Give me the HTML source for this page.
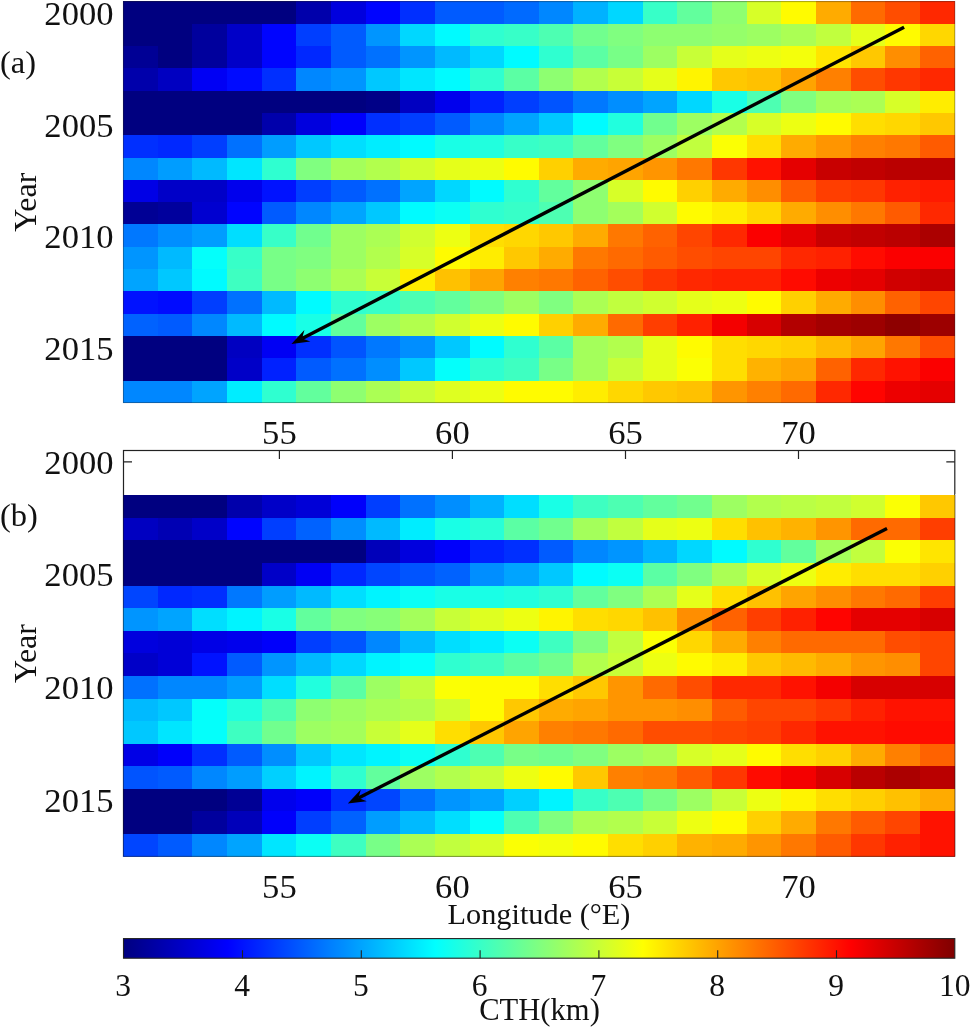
<!DOCTYPE html>
<html><head><meta charset="utf-8"><title>CTH Hovmoller</title>
<style>html,body{margin:0;padding:0;background:#fff}svg{display:block}text{font-family:"Liberation Serif",serif;fill:#111}</style></head><body>
<svg width="971" height="1029" viewBox="0 0 971 1029">
<defs><linearGradient id="jet" x1="0" x2="1" y1="0" y2="0">
<stop offset="0.0000" stop-color="#000080"/>
<stop offset="0.0156" stop-color="#00008f"/>
<stop offset="0.0312" stop-color="#00009f"/>
<stop offset="0.0469" stop-color="#0000af"/>
<stop offset="0.0625" stop-color="#0000bf"/>
<stop offset="0.0781" stop-color="#0000cf"/>
<stop offset="0.0938" stop-color="#0000df"/>
<stop offset="0.1094" stop-color="#0000ef"/>
<stop offset="0.1250" stop-color="#0000ff"/>
<stop offset="0.1406" stop-color="#0010ff"/>
<stop offset="0.1562" stop-color="#0020ff"/>
<stop offset="0.1719" stop-color="#0030ff"/>
<stop offset="0.1875" stop-color="#0040ff"/>
<stop offset="0.2031" stop-color="#0050ff"/>
<stop offset="0.2188" stop-color="#0060ff"/>
<stop offset="0.2344" stop-color="#0070ff"/>
<stop offset="0.2500" stop-color="#0080ff"/>
<stop offset="0.2656" stop-color="#008fff"/>
<stop offset="0.2812" stop-color="#009fff"/>
<stop offset="0.2969" stop-color="#00afff"/>
<stop offset="0.3125" stop-color="#00bfff"/>
<stop offset="0.3281" stop-color="#00cfff"/>
<stop offset="0.3438" stop-color="#00dfff"/>
<stop offset="0.3594" stop-color="#00efff"/>
<stop offset="0.3750" stop-color="#00ffff"/>
<stop offset="0.3906" stop-color="#10ffef"/>
<stop offset="0.4062" stop-color="#20ffdf"/>
<stop offset="0.4219" stop-color="#30ffcf"/>
<stop offset="0.4375" stop-color="#40ffbf"/>
<stop offset="0.4531" stop-color="#50ffaf"/>
<stop offset="0.4688" stop-color="#60ff9f"/>
<stop offset="0.4844" stop-color="#70ff8f"/>
<stop offset="0.5000" stop-color="#80ff80"/>
<stop offset="0.5156" stop-color="#8fff70"/>
<stop offset="0.5312" stop-color="#9fff60"/>
<stop offset="0.5469" stop-color="#afff50"/>
<stop offset="0.5625" stop-color="#bfff40"/>
<stop offset="0.5781" stop-color="#cfff30"/>
<stop offset="0.5938" stop-color="#dfff20"/>
<stop offset="0.6094" stop-color="#efff10"/>
<stop offset="0.6250" stop-color="#ffff00"/>
<stop offset="0.6406" stop-color="#ffef00"/>
<stop offset="0.6562" stop-color="#ffdf00"/>
<stop offset="0.6719" stop-color="#ffcf00"/>
<stop offset="0.6875" stop-color="#ffbf00"/>
<stop offset="0.7031" stop-color="#ffaf00"/>
<stop offset="0.7188" stop-color="#ff9f00"/>
<stop offset="0.7344" stop-color="#ff8f00"/>
<stop offset="0.7500" stop-color="#ff8000"/>
<stop offset="0.7656" stop-color="#ff7000"/>
<stop offset="0.7812" stop-color="#ff6000"/>
<stop offset="0.7969" stop-color="#ff5000"/>
<stop offset="0.8125" stop-color="#ff4000"/>
<stop offset="0.8281" stop-color="#ff3000"/>
<stop offset="0.8438" stop-color="#ff2000"/>
<stop offset="0.8594" stop-color="#ff1000"/>
<stop offset="0.8750" stop-color="#ff0000"/>
<stop offset="0.8906" stop-color="#ef0000"/>
<stop offset="0.9062" stop-color="#df0000"/>
<stop offset="0.9219" stop-color="#cf0000"/>
<stop offset="0.9375" stop-color="#bf0000"/>
<stop offset="0.9531" stop-color="#af0000"/>
<stop offset="0.9688" stop-color="#9f0000"/>
<stop offset="0.9844" stop-color="#8f0000"/>
<stop offset="1.0000" stop-color="#800000"/>
</linearGradient></defs>
<rect width="971" height="1029" fill="#fff"/>
<g shape-rendering="crispEdges">
<rect x="123.00" y="1.40" width="35.25" height="22.90" fill="#000080"/>
<rect x="157.65" y="1.40" width="35.25" height="22.90" fill="#000080"/>
<rect x="192.30" y="1.40" width="35.25" height="22.90" fill="#000080"/>
<rect x="226.95" y="1.40" width="35.25" height="22.90" fill="#000080"/>
<rect x="261.60" y="1.40" width="35.25" height="22.90" fill="#000080"/>
<rect x="296.25" y="1.40" width="35.25" height="22.90" fill="#0000ab"/>
<rect x="330.90" y="1.40" width="35.25" height="22.90" fill="#0000de"/>
<rect x="365.55" y="1.40" width="35.25" height="22.90" fill="#0004ff"/>
<rect x="400.20" y="1.40" width="35.25" height="22.90" fill="#002fff"/>
<rect x="434.85" y="1.40" width="35.25" height="22.90" fill="#005bff"/>
<rect x="469.50" y="1.40" width="35.25" height="22.90" fill="#005bff"/>
<rect x="504.15" y="1.40" width="35.25" height="22.90" fill="#006aff"/>
<rect x="538.80" y="1.40" width="35.25" height="22.90" fill="#0087ff"/>
<rect x="573.45" y="1.40" width="35.25" height="22.90" fill="#00b2ff"/>
<rect x="608.10" y="1.40" width="35.25" height="22.90" fill="#00d7ff"/>
<rect x="642.75" y="1.40" width="35.25" height="22.90" fill="#37ffc8"/>
<rect x="677.40" y="1.40" width="35.25" height="22.90" fill="#62ff9d"/>
<rect x="712.05" y="1.40" width="35.25" height="22.90" fill="#8eff71"/>
<rect x="746.70" y="1.40" width="35.25" height="22.90" fill="#d7ff28"/>
<rect x="781.35" y="1.40" width="35.25" height="22.90" fill="#fffb00"/>
<rect x="816.00" y="1.40" width="35.25" height="22.90" fill="#ffab00"/>
<rect x="850.65" y="1.40" width="35.25" height="22.90" fill="#ff6a00"/>
<rect x="885.30" y="1.40" width="35.25" height="22.90" fill="#ff4d00"/>
<rect x="919.95" y="1.40" width="35.25" height="22.90" fill="#ff2800"/>
<rect x="123.00" y="23.70" width="35.25" height="22.90" fill="#000080"/>
<rect x="157.65" y="23.70" width="35.25" height="22.90" fill="#000080"/>
<rect x="192.30" y="23.70" width="35.25" height="22.90" fill="#00009d"/>
<rect x="226.95" y="23.70" width="35.25" height="22.90" fill="#0000c8"/>
<rect x="261.60" y="23.70" width="35.25" height="22.90" fill="#0004ff"/>
<rect x="296.25" y="23.70" width="35.25" height="22.90" fill="#003eff"/>
<rect x="330.90" y="23.70" width="35.25" height="22.90" fill="#005bff"/>
<rect x="365.55" y="23.70" width="35.25" height="22.90" fill="#0095ff"/>
<rect x="400.20" y="23.70" width="35.25" height="22.90" fill="#00d7ff"/>
<rect x="434.85" y="23.70" width="35.25" height="22.90" fill="#00fbff"/>
<rect x="469.50" y="23.70" width="35.25" height="22.90" fill="#2fffd0"/>
<rect x="504.15" y="23.70" width="35.25" height="22.90" fill="#37ffc8"/>
<rect x="538.80" y="23.70" width="35.25" height="22.90" fill="#4dffb2"/>
<rect x="573.45" y="23.70" width="35.25" height="22.90" fill="#71ff8e"/>
<rect x="608.10" y="23.70" width="35.25" height="22.90" fill="#80ff80"/>
<rect x="642.75" y="23.70" width="35.25" height="22.90" fill="#8eff71"/>
<rect x="677.40" y="23.70" width="35.25" height="22.90" fill="#8eff71"/>
<rect x="712.05" y="23.70" width="35.25" height="22.90" fill="#95ff6a"/>
<rect x="746.70" y="23.70" width="35.25" height="22.90" fill="#9dff62"/>
<rect x="781.35" y="23.70" width="35.25" height="22.90" fill="#abff54"/>
<rect x="816.00" y="23.70" width="35.25" height="22.90" fill="#c1ff3e"/>
<rect x="850.65" y="23.70" width="35.25" height="22.90" fill="#e5ff1a"/>
<rect x="885.30" y="23.70" width="35.25" height="22.90" fill="#fffb00"/>
<rect x="919.95" y="23.70" width="35.25" height="22.90" fill="#ffd700"/>
<rect x="123.00" y="46.00" width="35.25" height="22.90" fill="#000095"/>
<rect x="157.65" y="46.00" width="35.25" height="22.90" fill="#000080"/>
<rect x="192.30" y="46.00" width="35.25" height="22.90" fill="#00009d"/>
<rect x="226.95" y="46.00" width="35.25" height="22.90" fill="#0000c8"/>
<rect x="261.60" y="46.00" width="35.25" height="22.90" fill="#0004ff"/>
<rect x="296.25" y="46.00" width="35.25" height="22.90" fill="#0028ff"/>
<rect x="330.90" y="46.00" width="35.25" height="22.90" fill="#005bff"/>
<rect x="365.55" y="46.00" width="35.25" height="22.90" fill="#0071ff"/>
<rect x="400.20" y="46.00" width="35.25" height="22.90" fill="#0095ff"/>
<rect x="434.85" y="46.00" width="35.25" height="22.90" fill="#00baff"/>
<rect x="469.50" y="46.00" width="35.25" height="22.90" fill="#00d7ff"/>
<rect x="504.15" y="46.00" width="35.25" height="22.90" fill="#00fbff"/>
<rect x="538.80" y="46.00" width="35.25" height="22.90" fill="#2fffd0"/>
<rect x="573.45" y="46.00" width="35.25" height="22.90" fill="#5bffa4"/>
<rect x="608.10" y="46.00" width="35.25" height="22.90" fill="#78ff87"/>
<rect x="642.75" y="46.00" width="35.25" height="22.90" fill="#9dff62"/>
<rect x="677.40" y="46.00" width="35.25" height="22.90" fill="#c8ff37"/>
<rect x="712.05" y="46.00" width="35.25" height="22.90" fill="#e5ff1a"/>
<rect x="746.70" y="46.00" width="35.25" height="22.90" fill="#edff12"/>
<rect x="781.35" y="46.00" width="35.25" height="22.90" fill="#f4ff0b"/>
<rect x="816.00" y="46.00" width="35.25" height="22.90" fill="#ffe500"/>
<rect x="850.65" y="46.00" width="35.25" height="22.90" fill="#ffc800"/>
<rect x="885.30" y="46.00" width="35.25" height="22.90" fill="#ff8e00"/>
<rect x="919.95" y="46.00" width="35.25" height="22.90" fill="#ff6200"/>
<rect x="123.00" y="68.30" width="35.25" height="22.90" fill="#0000ab"/>
<rect x="157.65" y="68.30" width="35.25" height="22.90" fill="#0000c1"/>
<rect x="192.30" y="68.30" width="35.25" height="22.90" fill="#0000f4"/>
<rect x="226.95" y="68.30" width="35.25" height="22.90" fill="#000bff"/>
<rect x="261.60" y="68.30" width="35.25" height="22.90" fill="#002fff"/>
<rect x="296.25" y="68.30" width="35.25" height="22.90" fill="#0087ff"/>
<rect x="330.90" y="68.30" width="35.25" height="22.90" fill="#0095ff"/>
<rect x="365.55" y="68.30" width="35.25" height="22.90" fill="#00c8ff"/>
<rect x="400.20" y="68.30" width="35.25" height="22.90" fill="#00e6ff"/>
<rect x="434.85" y="68.30" width="35.25" height="22.90" fill="#00fbff"/>
<rect x="469.50" y="68.30" width="35.25" height="22.90" fill="#2fffd0"/>
<rect x="504.15" y="68.30" width="35.25" height="22.90" fill="#5bffa4"/>
<rect x="538.80" y="68.30" width="35.25" height="22.90" fill="#8eff71"/>
<rect x="573.45" y="68.30" width="35.25" height="22.90" fill="#b2ff4d"/>
<rect x="608.10" y="68.30" width="35.25" height="22.90" fill="#c8ff37"/>
<rect x="642.75" y="68.30" width="35.25" height="22.90" fill="#e5ff1a"/>
<rect x="677.40" y="68.30" width="35.25" height="22.90" fill="#fff400"/>
<rect x="712.05" y="68.30" width="35.25" height="22.90" fill="#ffc800"/>
<rect x="746.70" y="68.30" width="35.25" height="22.90" fill="#ffc100"/>
<rect x="781.35" y="68.30" width="35.25" height="22.90" fill="#ffa400"/>
<rect x="816.00" y="68.30" width="35.25" height="22.90" fill="#ff8000"/>
<rect x="850.65" y="68.30" width="35.25" height="22.90" fill="#ff4d00"/>
<rect x="885.30" y="68.30" width="35.25" height="22.90" fill="#ff3700"/>
<rect x="919.95" y="68.30" width="35.25" height="22.90" fill="#ff2800"/>
<rect x="123.00" y="90.60" width="35.25" height="22.90" fill="#000080"/>
<rect x="157.65" y="90.60" width="35.25" height="22.90" fill="#000080"/>
<rect x="192.30" y="90.60" width="35.25" height="22.90" fill="#000080"/>
<rect x="226.95" y="90.60" width="35.25" height="22.90" fill="#000080"/>
<rect x="261.60" y="90.60" width="35.25" height="22.90" fill="#000080"/>
<rect x="296.25" y="90.60" width="35.25" height="22.90" fill="#000080"/>
<rect x="330.90" y="90.60" width="35.25" height="22.90" fill="#000080"/>
<rect x="365.55" y="90.60" width="35.25" height="22.90" fill="#000087"/>
<rect x="400.20" y="90.60" width="35.25" height="22.90" fill="#0000c1"/>
<rect x="434.85" y="90.60" width="35.25" height="22.90" fill="#0000ed"/>
<rect x="469.50" y="90.60" width="35.25" height="22.90" fill="#0021ff"/>
<rect x="504.15" y="90.60" width="35.25" height="22.90" fill="#003eff"/>
<rect x="538.80" y="90.60" width="35.25" height="22.90" fill="#0054ff"/>
<rect x="573.45" y="90.60" width="35.25" height="22.90" fill="#0078ff"/>
<rect x="608.10" y="90.60" width="35.25" height="22.90" fill="#008eff"/>
<rect x="642.75" y="90.60" width="35.25" height="22.90" fill="#00a4ff"/>
<rect x="677.40" y="90.60" width="35.25" height="22.90" fill="#00d7ff"/>
<rect x="712.05" y="90.60" width="35.25" height="22.90" fill="#19ffe6"/>
<rect x="746.70" y="90.60" width="35.25" height="22.90" fill="#4dffb2"/>
<rect x="781.35" y="90.60" width="35.25" height="22.90" fill="#80ff80"/>
<rect x="816.00" y="90.60" width="35.25" height="22.90" fill="#a4ff5b"/>
<rect x="850.65" y="90.60" width="35.25" height="22.90" fill="#abff54"/>
<rect x="885.30" y="90.60" width="35.25" height="22.90" fill="#d7ff28"/>
<rect x="919.95" y="90.60" width="35.25" height="22.90" fill="#ffed00"/>
<rect x="123.00" y="112.90" width="35.25" height="22.90" fill="#000080"/>
<rect x="157.65" y="112.90" width="35.25" height="22.90" fill="#000080"/>
<rect x="192.30" y="112.90" width="35.25" height="22.90" fill="#000080"/>
<rect x="226.95" y="112.90" width="35.25" height="22.90" fill="#000080"/>
<rect x="261.60" y="112.90" width="35.25" height="22.90" fill="#0000ab"/>
<rect x="296.25" y="112.90" width="35.25" height="22.90" fill="#0000de"/>
<rect x="330.90" y="112.90" width="35.25" height="22.90" fill="#0000fb"/>
<rect x="365.55" y="112.90" width="35.25" height="22.90" fill="#002fff"/>
<rect x="400.20" y="112.90" width="35.25" height="22.90" fill="#003eff"/>
<rect x="434.85" y="112.90" width="35.25" height="22.90" fill="#005bff"/>
<rect x="469.50" y="112.90" width="35.25" height="22.90" fill="#0087ff"/>
<rect x="504.15" y="112.90" width="35.25" height="22.90" fill="#00a4ff"/>
<rect x="538.80" y="112.90" width="35.25" height="22.90" fill="#00c8ff"/>
<rect x="573.45" y="112.90" width="35.25" height="22.90" fill="#00fbff"/>
<rect x="608.10" y="112.90" width="35.25" height="22.90" fill="#21ffde"/>
<rect x="642.75" y="112.90" width="35.25" height="22.90" fill="#71ff8e"/>
<rect x="677.40" y="112.90" width="35.25" height="22.90" fill="#9dff62"/>
<rect x="712.05" y="112.90" width="35.25" height="22.90" fill="#b2ff4d"/>
<rect x="746.70" y="112.90" width="35.25" height="22.90" fill="#d7ff28"/>
<rect x="781.35" y="112.90" width="35.25" height="22.90" fill="#edff12"/>
<rect x="816.00" y="112.90" width="35.25" height="22.90" fill="#fffb00"/>
<rect x="850.65" y="112.90" width="35.25" height="22.90" fill="#ffde00"/>
<rect x="885.30" y="112.90" width="35.25" height="22.90" fill="#ffd700"/>
<rect x="919.95" y="112.90" width="35.25" height="22.90" fill="#ffc800"/>
<rect x="123.00" y="135.20" width="35.25" height="22.90" fill="#002fff"/>
<rect x="157.65" y="135.20" width="35.25" height="22.90" fill="#0028ff"/>
<rect x="192.30" y="135.20" width="35.25" height="22.90" fill="#003eff"/>
<rect x="226.95" y="135.20" width="35.25" height="22.90" fill="#0071ff"/>
<rect x="261.60" y="135.20" width="35.25" height="22.90" fill="#009dff"/>
<rect x="296.25" y="135.20" width="35.25" height="22.90" fill="#00c8ff"/>
<rect x="330.90" y="135.20" width="35.25" height="22.90" fill="#00deff"/>
<rect x="365.55" y="135.20" width="35.25" height="22.90" fill="#00edff"/>
<rect x="400.20" y="135.20" width="35.25" height="22.90" fill="#00fbff"/>
<rect x="434.85" y="135.20" width="35.25" height="22.90" fill="#19ffe6"/>
<rect x="469.50" y="135.20" width="35.25" height="22.90" fill="#21ffde"/>
<rect x="504.15" y="135.20" width="35.25" height="22.90" fill="#37ffc8"/>
<rect x="538.80" y="135.20" width="35.25" height="22.90" fill="#3effc1"/>
<rect x="573.45" y="135.20" width="35.25" height="22.90" fill="#62ff9d"/>
<rect x="608.10" y="135.20" width="35.25" height="22.90" fill="#80ff80"/>
<rect x="642.75" y="135.20" width="35.25" height="22.90" fill="#9dff62"/>
<rect x="677.40" y="135.20" width="35.25" height="22.90" fill="#c1ff3e"/>
<rect x="712.05" y="135.20" width="35.25" height="22.90" fill="#fbff04"/>
<rect x="746.70" y="135.20" width="35.25" height="22.90" fill="#ffde00"/>
<rect x="781.35" y="135.20" width="35.25" height="22.90" fill="#ffab00"/>
<rect x="816.00" y="135.20" width="35.25" height="22.90" fill="#ff9500"/>
<rect x="850.65" y="135.20" width="35.25" height="22.90" fill="#ff8000"/>
<rect x="885.30" y="135.20" width="35.25" height="22.90" fill="#ff7800"/>
<rect x="919.95" y="135.20" width="35.25" height="22.90" fill="#ff5b00"/>
<rect x="123.00" y="157.50" width="35.25" height="22.90" fill="#0087ff"/>
<rect x="157.65" y="157.50" width="35.25" height="22.90" fill="#009dff"/>
<rect x="192.30" y="157.50" width="35.25" height="22.90" fill="#00baff"/>
<rect x="226.95" y="157.50" width="35.25" height="22.90" fill="#00e6ff"/>
<rect x="261.60" y="157.50" width="35.25" height="22.90" fill="#2fffd0"/>
<rect x="296.25" y="157.50" width="35.25" height="22.90" fill="#80ff80"/>
<rect x="330.90" y="157.50" width="35.25" height="22.90" fill="#a4ff5b"/>
<rect x="365.55" y="157.50" width="35.25" height="22.90" fill="#b2ff4d"/>
<rect x="400.20" y="157.50" width="35.25" height="22.90" fill="#d0ff2f"/>
<rect x="434.85" y="157.50" width="35.25" height="22.90" fill="#e5ff1a"/>
<rect x="469.50" y="157.50" width="35.25" height="22.90" fill="#edff12"/>
<rect x="504.15" y="157.50" width="35.25" height="22.90" fill="#fffb00"/>
<rect x="538.80" y="157.50" width="35.25" height="22.90" fill="#ffd000"/>
<rect x="573.45" y="157.50" width="35.25" height="22.90" fill="#ffab00"/>
<rect x="608.10" y="157.50" width="35.25" height="22.90" fill="#ffa400"/>
<rect x="642.75" y="157.50" width="35.25" height="22.90" fill="#ff9500"/>
<rect x="677.40" y="157.50" width="35.25" height="22.90" fill="#ff7800"/>
<rect x="712.05" y="157.50" width="35.25" height="22.90" fill="#ff3700"/>
<rect x="746.70" y="157.50" width="35.25" height="22.90" fill="#ff1200"/>
<rect x="781.35" y="157.50" width="35.25" height="22.90" fill="#e50000"/>
<rect x="816.00" y="157.50" width="35.25" height="22.90" fill="#c80000"/>
<rect x="850.65" y="157.50" width="35.25" height="22.90" fill="#c10000"/>
<rect x="885.30" y="157.50" width="35.25" height="22.90" fill="#ba0000"/>
<rect x="919.95" y="157.50" width="35.25" height="22.90" fill="#ba0000"/>
<rect x="123.00" y="179.80" width="35.25" height="22.90" fill="#0000e6"/>
<rect x="157.65" y="179.80" width="35.25" height="22.90" fill="#0000c8"/>
<rect x="192.30" y="179.80" width="35.25" height="22.90" fill="#0000c8"/>
<rect x="226.95" y="179.80" width="35.25" height="22.90" fill="#0000ed"/>
<rect x="261.60" y="179.80" width="35.25" height="22.90" fill="#0012ff"/>
<rect x="296.25" y="179.80" width="35.25" height="22.90" fill="#003eff"/>
<rect x="330.90" y="179.80" width="35.25" height="22.90" fill="#005bff"/>
<rect x="365.55" y="179.80" width="35.25" height="22.90" fill="#0071ff"/>
<rect x="400.20" y="179.80" width="35.25" height="22.90" fill="#00a4ff"/>
<rect x="434.85" y="179.80" width="35.25" height="22.90" fill="#00d7ff"/>
<rect x="469.50" y="179.80" width="35.25" height="22.90" fill="#00fbff"/>
<rect x="504.15" y="179.80" width="35.25" height="22.90" fill="#2fffd0"/>
<rect x="538.80" y="179.80" width="35.25" height="22.90" fill="#62ff9d"/>
<rect x="573.45" y="179.80" width="35.25" height="22.90" fill="#8eff71"/>
<rect x="608.10" y="179.80" width="35.25" height="22.90" fill="#d7ff28"/>
<rect x="642.75" y="179.80" width="35.25" height="22.90" fill="#fffb00"/>
<rect x="677.40" y="179.80" width="35.25" height="22.90" fill="#ffd000"/>
<rect x="712.05" y="179.80" width="35.25" height="22.90" fill="#ffab00"/>
<rect x="746.70" y="179.80" width="35.25" height="22.90" fill="#ff8e00"/>
<rect x="781.35" y="179.80" width="35.25" height="22.90" fill="#ff5b00"/>
<rect x="816.00" y="179.80" width="35.25" height="22.90" fill="#ff3e00"/>
<rect x="850.65" y="179.80" width="35.25" height="22.90" fill="#ff3700"/>
<rect x="885.30" y="179.80" width="35.25" height="22.90" fill="#ff2100"/>
<rect x="919.95" y="179.80" width="35.25" height="22.90" fill="#ff1a00"/>
<rect x="123.00" y="202.10" width="35.25" height="22.90" fill="#000095"/>
<rect x="157.65" y="202.10" width="35.25" height="22.90" fill="#00009d"/>
<rect x="192.30" y="202.10" width="35.25" height="22.90" fill="#0000d0"/>
<rect x="226.95" y="202.10" width="35.25" height="22.90" fill="#0004ff"/>
<rect x="261.60" y="202.10" width="35.25" height="22.90" fill="#005bff"/>
<rect x="296.25" y="202.10" width="35.25" height="22.90" fill="#0087ff"/>
<rect x="330.90" y="202.10" width="35.25" height="22.90" fill="#00a4ff"/>
<rect x="365.55" y="202.10" width="35.25" height="22.90" fill="#00c8ff"/>
<rect x="400.20" y="202.10" width="35.25" height="22.90" fill="#00fbff"/>
<rect x="434.85" y="202.10" width="35.25" height="22.90" fill="#0bfff4"/>
<rect x="469.50" y="202.10" width="35.25" height="22.90" fill="#2fffd0"/>
<rect x="504.15" y="202.10" width="35.25" height="22.90" fill="#37ffc8"/>
<rect x="538.80" y="202.10" width="35.25" height="22.90" fill="#4dffb2"/>
<rect x="573.45" y="202.10" width="35.25" height="22.90" fill="#8eff71"/>
<rect x="608.10" y="202.10" width="35.25" height="22.90" fill="#a4ff5b"/>
<rect x="642.75" y="202.10" width="35.25" height="22.90" fill="#d0ff2f"/>
<rect x="677.40" y="202.10" width="35.25" height="22.90" fill="#fffb00"/>
<rect x="712.05" y="202.10" width="35.25" height="22.90" fill="#ffed00"/>
<rect x="746.70" y="202.10" width="35.25" height="22.90" fill="#ffd700"/>
<rect x="781.35" y="202.10" width="35.25" height="22.90" fill="#ffab00"/>
<rect x="816.00" y="202.10" width="35.25" height="22.90" fill="#ff8e00"/>
<rect x="850.65" y="202.10" width="35.25" height="22.90" fill="#ff7800"/>
<rect x="885.30" y="202.10" width="35.25" height="22.90" fill="#ff5b00"/>
<rect x="919.95" y="202.10" width="35.25" height="22.90" fill="#ff2800"/>
<rect x="123.00" y="224.40" width="35.25" height="22.90" fill="#0078ff"/>
<rect x="157.65" y="224.40" width="35.25" height="22.90" fill="#008eff"/>
<rect x="192.30" y="224.40" width="35.25" height="22.90" fill="#009dff"/>
<rect x="226.95" y="224.40" width="35.25" height="22.90" fill="#00deff"/>
<rect x="261.60" y="224.40" width="35.25" height="22.90" fill="#37ffc8"/>
<rect x="296.25" y="224.40" width="35.25" height="22.90" fill="#71ff8e"/>
<rect x="330.90" y="224.40" width="35.25" height="22.90" fill="#9dff62"/>
<rect x="365.55" y="224.40" width="35.25" height="22.90" fill="#abff54"/>
<rect x="400.20" y="224.40" width="35.25" height="22.90" fill="#d0ff2f"/>
<rect x="434.85" y="224.40" width="35.25" height="22.90" fill="#edff12"/>
<rect x="469.50" y="224.40" width="35.25" height="22.90" fill="#ffde00"/>
<rect x="504.15" y="224.40" width="35.25" height="22.90" fill="#ffd700"/>
<rect x="538.80" y="224.40" width="35.25" height="22.90" fill="#ffc800"/>
<rect x="573.45" y="224.40" width="35.25" height="22.90" fill="#ffab00"/>
<rect x="608.10" y="224.40" width="35.25" height="22.90" fill="#ff7800"/>
<rect x="642.75" y="224.40" width="35.25" height="22.90" fill="#ff6200"/>
<rect x="677.40" y="224.40" width="35.25" height="22.90" fill="#ff4500"/>
<rect x="712.05" y="224.40" width="35.25" height="22.90" fill="#ff2800"/>
<rect x="746.70" y="224.40" width="35.25" height="22.90" fill="#fb0000"/>
<rect x="781.35" y="224.40" width="35.25" height="22.90" fill="#e50000"/>
<rect x="816.00" y="224.40" width="35.25" height="22.90" fill="#c80000"/>
<rect x="850.65" y="224.40" width="35.25" height="22.90" fill="#c10000"/>
<rect x="885.30" y="224.40" width="35.25" height="22.90" fill="#ba0000"/>
<rect x="919.95" y="224.40" width="35.25" height="22.90" fill="#ab0000"/>
<rect x="123.00" y="246.70" width="35.25" height="22.90" fill="#0095ff"/>
<rect x="157.65" y="246.70" width="35.25" height="22.90" fill="#00baff"/>
<rect x="192.30" y="246.70" width="35.25" height="22.90" fill="#04fffb"/>
<rect x="226.95" y="246.70" width="35.25" height="22.90" fill="#37ffc8"/>
<rect x="261.60" y="246.70" width="35.25" height="22.90" fill="#78ff87"/>
<rect x="296.25" y="246.70" width="35.25" height="22.90" fill="#80ff80"/>
<rect x="330.90" y="246.70" width="35.25" height="22.90" fill="#9dff62"/>
<rect x="365.55" y="246.70" width="35.25" height="22.90" fill="#b2ff4d"/>
<rect x="400.20" y="246.70" width="35.25" height="22.90" fill="#d7ff28"/>
<rect x="434.85" y="246.70" width="35.25" height="22.90" fill="#fffb00"/>
<rect x="469.50" y="246.70" width="35.25" height="22.90" fill="#ffed00"/>
<rect x="504.15" y="246.70" width="35.25" height="22.90" fill="#ffc800"/>
<rect x="538.80" y="246.70" width="35.25" height="22.90" fill="#ffab00"/>
<rect x="573.45" y="246.70" width="35.25" height="22.90" fill="#ff7800"/>
<rect x="608.10" y="246.70" width="35.25" height="22.90" fill="#ff6a00"/>
<rect x="642.75" y="246.70" width="35.25" height="22.90" fill="#ff5b00"/>
<rect x="677.40" y="246.70" width="35.25" height="22.90" fill="#ff4d00"/>
<rect x="712.05" y="246.70" width="35.25" height="22.90" fill="#ff4500"/>
<rect x="746.70" y="246.70" width="35.25" height="22.90" fill="#ff4500"/>
<rect x="781.35" y="246.70" width="35.25" height="22.90" fill="#ff2800"/>
<rect x="816.00" y="246.70" width="35.25" height="22.90" fill="#ff2100"/>
<rect x="850.65" y="246.70" width="35.25" height="22.90" fill="#ff0b00"/>
<rect x="885.30" y="246.70" width="35.25" height="22.90" fill="#fb0000"/>
<rect x="919.95" y="246.70" width="35.25" height="22.90" fill="#fb0000"/>
<rect x="123.00" y="269.00" width="35.25" height="22.90" fill="#00a4ff"/>
<rect x="157.65" y="269.00" width="35.25" height="22.90" fill="#00c8ff"/>
<rect x="192.30" y="269.00" width="35.25" height="22.90" fill="#00fbff"/>
<rect x="226.95" y="269.00" width="35.25" height="22.90" fill="#3effc1"/>
<rect x="261.60" y="269.00" width="35.25" height="22.90" fill="#78ff87"/>
<rect x="296.25" y="269.00" width="35.25" height="22.90" fill="#8eff71"/>
<rect x="330.90" y="269.00" width="35.25" height="22.90" fill="#abff54"/>
<rect x="365.55" y="269.00" width="35.25" height="22.90" fill="#c8ff37"/>
<rect x="400.20" y="269.00" width="35.25" height="22.90" fill="#ffed00"/>
<rect x="434.85" y="269.00" width="35.25" height="22.90" fill="#ffc100"/>
<rect x="469.50" y="269.00" width="35.25" height="22.90" fill="#ffa400"/>
<rect x="504.15" y="269.00" width="35.25" height="22.90" fill="#ff8000"/>
<rect x="538.80" y="269.00" width="35.25" height="22.90" fill="#ff7800"/>
<rect x="573.45" y="269.00" width="35.25" height="22.90" fill="#ff6200"/>
<rect x="608.10" y="269.00" width="35.25" height="22.90" fill="#ff4d00"/>
<rect x="642.75" y="269.00" width="35.25" height="22.90" fill="#ff3700"/>
<rect x="677.40" y="269.00" width="35.25" height="22.90" fill="#ff2800"/>
<rect x="712.05" y="269.00" width="35.25" height="22.90" fill="#ff2100"/>
<rect x="746.70" y="269.00" width="35.25" height="22.90" fill="#ff2100"/>
<rect x="781.35" y="269.00" width="35.25" height="22.90" fill="#ff0b00"/>
<rect x="816.00" y="269.00" width="35.25" height="22.90" fill="#ed0000"/>
<rect x="850.65" y="269.00" width="35.25" height="22.90" fill="#e50000"/>
<rect x="885.30" y="269.00" width="35.25" height="22.90" fill="#d00000"/>
<rect x="919.95" y="269.00" width="35.25" height="22.90" fill="#c80000"/>
<rect x="123.00" y="291.30" width="35.25" height="22.90" fill="#0012ff"/>
<rect x="157.65" y="291.30" width="35.25" height="22.90" fill="#000bff"/>
<rect x="192.30" y="291.30" width="35.25" height="22.90" fill="#003eff"/>
<rect x="226.95" y="291.30" width="35.25" height="22.90" fill="#0071ff"/>
<rect x="261.60" y="291.30" width="35.25" height="22.90" fill="#00baff"/>
<rect x="296.25" y="291.30" width="35.25" height="22.90" fill="#00fbff"/>
<rect x="330.90" y="291.30" width="35.25" height="22.90" fill="#2fffd0"/>
<rect x="365.55" y="291.30" width="35.25" height="22.90" fill="#37ffc8"/>
<rect x="400.20" y="291.30" width="35.25" height="22.90" fill="#4dffb2"/>
<rect x="434.85" y="291.30" width="35.25" height="22.90" fill="#62ff9d"/>
<rect x="469.50" y="291.30" width="35.25" height="22.90" fill="#80ff80"/>
<rect x="504.15" y="291.30" width="35.25" height="22.90" fill="#9dff62"/>
<rect x="538.80" y="291.30" width="35.25" height="22.90" fill="#80ff80"/>
<rect x="573.45" y="291.30" width="35.25" height="22.90" fill="#abff54"/>
<rect x="608.10" y="291.30" width="35.25" height="22.90" fill="#c1ff3e"/>
<rect x="642.75" y="291.30" width="35.25" height="22.90" fill="#d0ff2f"/>
<rect x="677.40" y="291.30" width="35.25" height="22.90" fill="#e5ff1a"/>
<rect x="712.05" y="291.30" width="35.25" height="22.90" fill="#edff12"/>
<rect x="746.70" y="291.30" width="35.25" height="22.90" fill="#fffb00"/>
<rect x="781.35" y="291.30" width="35.25" height="22.90" fill="#ffd000"/>
<rect x="816.00" y="291.30" width="35.25" height="22.90" fill="#ffab00"/>
<rect x="850.65" y="291.30" width="35.25" height="22.90" fill="#ff8e00"/>
<rect x="885.30" y="291.30" width="35.25" height="22.90" fill="#ff6200"/>
<rect x="919.95" y="291.30" width="35.25" height="22.90" fill="#ff4500"/>
<rect x="123.00" y="313.60" width="35.25" height="22.90" fill="#0062ff"/>
<rect x="157.65" y="313.60" width="35.25" height="22.90" fill="#005bff"/>
<rect x="192.30" y="313.60" width="35.25" height="22.90" fill="#0087ff"/>
<rect x="226.95" y="313.60" width="35.25" height="22.90" fill="#00baff"/>
<rect x="261.60" y="313.60" width="35.25" height="22.90" fill="#00fbff"/>
<rect x="296.25" y="313.60" width="35.25" height="22.90" fill="#19ffe6"/>
<rect x="330.90" y="313.60" width="35.25" height="22.90" fill="#62ff9d"/>
<rect x="365.55" y="313.60" width="35.25" height="22.90" fill="#9dff62"/>
<rect x="400.20" y="313.60" width="35.25" height="22.90" fill="#b2ff4d"/>
<rect x="434.85" y="313.60" width="35.25" height="22.90" fill="#d0ff2f"/>
<rect x="469.50" y="313.60" width="35.25" height="22.90" fill="#edff12"/>
<rect x="504.15" y="313.60" width="35.25" height="22.90" fill="#fffb00"/>
<rect x="538.80" y="313.60" width="35.25" height="22.90" fill="#ffd000"/>
<rect x="573.45" y="313.60" width="35.25" height="22.90" fill="#ffab00"/>
<rect x="608.10" y="313.60" width="35.25" height="22.90" fill="#ff6a00"/>
<rect x="642.75" y="313.60" width="35.25" height="22.90" fill="#ff3e00"/>
<rect x="677.40" y="313.60" width="35.25" height="22.90" fill="#ff2100"/>
<rect x="712.05" y="313.60" width="35.25" height="22.90" fill="#f40000"/>
<rect x="746.70" y="313.60" width="35.25" height="22.90" fill="#d70000"/>
<rect x="781.35" y="313.60" width="35.25" height="22.90" fill="#b20000"/>
<rect x="816.00" y="313.60" width="35.25" height="22.90" fill="#a40000"/>
<rect x="850.65" y="313.60" width="35.25" height="22.90" fill="#9d0000"/>
<rect x="885.30" y="313.60" width="35.25" height="22.90" fill="#8e0000"/>
<rect x="919.95" y="313.60" width="35.25" height="22.90" fill="#9d0000"/>
<rect x="123.00" y="335.90" width="35.25" height="22.90" fill="#000080"/>
<rect x="157.65" y="335.90" width="35.25" height="22.90" fill="#000080"/>
<rect x="192.30" y="335.90" width="35.25" height="22.90" fill="#000080"/>
<rect x="226.95" y="335.90" width="35.25" height="22.90" fill="#0000c1"/>
<rect x="261.60" y="335.90" width="35.25" height="22.90" fill="#0000f4"/>
<rect x="296.25" y="335.90" width="35.25" height="22.90" fill="#002fff"/>
<rect x="330.90" y="335.90" width="35.25" height="22.90" fill="#0054ff"/>
<rect x="365.55" y="335.90" width="35.25" height="22.90" fill="#0078ff"/>
<rect x="400.20" y="335.90" width="35.25" height="22.90" fill="#008eff"/>
<rect x="434.85" y="335.90" width="35.25" height="22.90" fill="#00c8ff"/>
<rect x="469.50" y="335.90" width="35.25" height="22.90" fill="#00fbff"/>
<rect x="504.15" y="335.90" width="35.25" height="22.90" fill="#2fffd0"/>
<rect x="538.80" y="335.90" width="35.25" height="22.90" fill="#5bffa4"/>
<rect x="573.45" y="335.90" width="35.25" height="22.90" fill="#a4ff5b"/>
<rect x="608.10" y="335.90" width="35.25" height="22.90" fill="#b2ff4d"/>
<rect x="642.75" y="335.90" width="35.25" height="22.90" fill="#e5ff1a"/>
<rect x="677.40" y="335.90" width="35.25" height="22.90" fill="#fffb00"/>
<rect x="712.05" y="335.90" width="35.25" height="22.90" fill="#ffde00"/>
<rect x="746.70" y="335.90" width="35.25" height="22.90" fill="#ffd700"/>
<rect x="781.35" y="335.90" width="35.25" height="22.90" fill="#ffd000"/>
<rect x="816.00" y="335.90" width="35.25" height="22.90" fill="#ffba00"/>
<rect x="850.65" y="335.90" width="35.25" height="22.90" fill="#ffa400"/>
<rect x="885.30" y="335.90" width="35.25" height="22.90" fill="#ff7800"/>
<rect x="919.95" y="335.90" width="35.25" height="22.90" fill="#ff4d00"/>
<rect x="123.00" y="358.20" width="35.25" height="22.90" fill="#000080"/>
<rect x="157.65" y="358.20" width="35.25" height="22.90" fill="#000080"/>
<rect x="192.30" y="358.20" width="35.25" height="22.90" fill="#000080"/>
<rect x="226.95" y="358.20" width="35.25" height="22.90" fill="#0000c8"/>
<rect x="261.60" y="358.20" width="35.25" height="22.90" fill="#0021ff"/>
<rect x="296.25" y="358.20" width="35.25" height="22.90" fill="#005bff"/>
<rect x="330.90" y="358.20" width="35.25" height="22.90" fill="#0071ff"/>
<rect x="365.55" y="358.20" width="35.25" height="22.90" fill="#008eff"/>
<rect x="400.20" y="358.20" width="35.25" height="22.90" fill="#00c8ff"/>
<rect x="434.85" y="358.20" width="35.25" height="22.90" fill="#04fffb"/>
<rect x="469.50" y="358.20" width="35.25" height="22.90" fill="#2fffd0"/>
<rect x="504.15" y="358.20" width="35.25" height="22.90" fill="#3effc1"/>
<rect x="538.80" y="358.20" width="35.25" height="22.90" fill="#78ff87"/>
<rect x="573.45" y="358.20" width="35.25" height="22.90" fill="#a4ff5b"/>
<rect x="608.10" y="358.20" width="35.25" height="22.90" fill="#c8ff37"/>
<rect x="642.75" y="358.20" width="35.25" height="22.90" fill="#e5ff1a"/>
<rect x="677.40" y="358.20" width="35.25" height="22.90" fill="#fbff04"/>
<rect x="712.05" y="358.20" width="35.25" height="22.90" fill="#ffde00"/>
<rect x="746.70" y="358.20" width="35.25" height="22.90" fill="#ffb200"/>
<rect x="781.35" y="358.20" width="35.25" height="22.90" fill="#ffa400"/>
<rect x="816.00" y="358.20" width="35.25" height="22.90" fill="#ff6200"/>
<rect x="850.65" y="358.20" width="35.25" height="22.90" fill="#ff2800"/>
<rect x="885.30" y="358.20" width="35.25" height="22.90" fill="#ff1200"/>
<rect x="919.95" y="358.20" width="35.25" height="22.90" fill="#fb0000"/>
<rect x="123.00" y="380.50" width="35.25" height="22.90" fill="#0087ff"/>
<rect x="157.65" y="380.50" width="35.25" height="22.90" fill="#0087ff"/>
<rect x="192.30" y="380.50" width="35.25" height="22.90" fill="#00a4ff"/>
<rect x="226.95" y="380.50" width="35.25" height="22.90" fill="#00edff"/>
<rect x="261.60" y="380.50" width="35.25" height="22.90" fill="#2fffd0"/>
<rect x="296.25" y="380.50" width="35.25" height="22.90" fill="#62ff9d"/>
<rect x="330.90" y="380.50" width="35.25" height="22.90" fill="#8eff71"/>
<rect x="365.55" y="380.50" width="35.25" height="22.90" fill="#abff54"/>
<rect x="400.20" y="380.50" width="35.25" height="22.90" fill="#c8ff37"/>
<rect x="434.85" y="380.50" width="35.25" height="22.90" fill="#deff21"/>
<rect x="469.50" y="380.50" width="35.25" height="22.90" fill="#edff12"/>
<rect x="504.15" y="380.50" width="35.25" height="22.90" fill="#fffb00"/>
<rect x="538.80" y="380.50" width="35.25" height="22.90" fill="#fffb00"/>
<rect x="573.45" y="380.50" width="35.25" height="22.90" fill="#ffed00"/>
<rect x="608.10" y="380.50" width="35.25" height="22.90" fill="#ffd700"/>
<rect x="642.75" y="380.50" width="35.25" height="22.90" fill="#ffc800"/>
<rect x="677.40" y="380.50" width="35.25" height="22.90" fill="#ffc100"/>
<rect x="712.05" y="380.50" width="35.25" height="22.90" fill="#ff9500"/>
<rect x="746.70" y="380.50" width="35.25" height="22.90" fill="#ff8000"/>
<rect x="781.35" y="380.50" width="35.25" height="22.90" fill="#ff6a00"/>
<rect x="816.00" y="380.50" width="35.25" height="22.90" fill="#ff2800"/>
<rect x="850.65" y="380.50" width="35.25" height="22.90" fill="#ff0400"/>
<rect x="885.30" y="380.50" width="35.25" height="22.90" fill="#ed0000"/>
<rect x="919.95" y="380.50" width="35.25" height="22.90" fill="#e50000"/>
</g>
<rect x="123.5" y="450.5" width="831.3" height="406" fill="#fff" stroke="#222" stroke-width="1.2"/>
<g shape-rendering="crispEdges">
<rect x="123.00" y="495.30" width="35.25" height="23.18" fill="#000080"/>
<rect x="157.65" y="495.30" width="35.25" height="23.18" fill="#000080"/>
<rect x="192.30" y="495.30" width="35.25" height="23.18" fill="#000080"/>
<rect x="226.95" y="495.30" width="35.25" height="23.18" fill="#0000ab"/>
<rect x="261.60" y="495.30" width="35.25" height="23.18" fill="#0000c8"/>
<rect x="296.25" y="495.30" width="35.25" height="23.18" fill="#0000d7"/>
<rect x="330.90" y="495.30" width="35.25" height="23.18" fill="#0000fb"/>
<rect x="365.55" y="495.30" width="35.25" height="23.18" fill="#003eff"/>
<rect x="400.20" y="495.30" width="35.25" height="23.18" fill="#0071ff"/>
<rect x="434.85" y="495.30" width="35.25" height="23.18" fill="#008eff"/>
<rect x="469.50" y="495.30" width="35.25" height="23.18" fill="#00b2ff"/>
<rect x="504.15" y="495.30" width="35.25" height="23.18" fill="#00deff"/>
<rect x="538.80" y="495.30" width="35.25" height="23.18" fill="#19ffe6"/>
<rect x="573.45" y="495.30" width="35.25" height="23.18" fill="#3effc1"/>
<rect x="608.10" y="495.30" width="35.25" height="23.18" fill="#4dffb2"/>
<rect x="642.75" y="495.30" width="35.25" height="23.18" fill="#62ff9d"/>
<rect x="677.40" y="495.30" width="35.25" height="23.18" fill="#71ff8e"/>
<rect x="712.05" y="495.30" width="35.25" height="23.18" fill="#9dff62"/>
<rect x="746.70" y="495.30" width="35.25" height="23.18" fill="#b2ff4d"/>
<rect x="781.35" y="495.30" width="35.25" height="23.18" fill="#baff45"/>
<rect x="816.00" y="495.30" width="35.25" height="23.18" fill="#c1ff3e"/>
<rect x="850.65" y="495.30" width="35.25" height="23.18" fill="#d0ff2f"/>
<rect x="885.30" y="495.30" width="35.25" height="23.18" fill="#fbff04"/>
<rect x="919.95" y="495.30" width="35.25" height="23.18" fill="#ffc800"/>
<rect x="123.00" y="517.88" width="35.25" height="23.18" fill="#0000c1"/>
<rect x="157.65" y="517.88" width="35.25" height="23.18" fill="#0000b3"/>
<rect x="192.30" y="517.88" width="35.25" height="23.18" fill="#0000c8"/>
<rect x="226.95" y="517.88" width="35.25" height="23.18" fill="#0004ff"/>
<rect x="261.60" y="517.88" width="35.25" height="23.18" fill="#003eff"/>
<rect x="296.25" y="517.88" width="35.25" height="23.18" fill="#0062ff"/>
<rect x="330.90" y="517.88" width="35.25" height="23.18" fill="#008eff"/>
<rect x="365.55" y="517.88" width="35.25" height="23.18" fill="#00baff"/>
<rect x="400.20" y="517.88" width="35.25" height="23.18" fill="#00edff"/>
<rect x="434.85" y="517.88" width="35.25" height="23.18" fill="#19ffe6"/>
<rect x="469.50" y="517.88" width="35.25" height="23.18" fill="#28ffd7"/>
<rect x="504.15" y="517.88" width="35.25" height="23.18" fill="#5bffa4"/>
<rect x="538.80" y="517.88" width="35.25" height="23.18" fill="#71ff8e"/>
<rect x="573.45" y="517.88" width="35.25" height="23.18" fill="#a4ff5b"/>
<rect x="608.10" y="517.88" width="35.25" height="23.18" fill="#c1ff3e"/>
<rect x="642.75" y="517.88" width="35.25" height="23.18" fill="#e5ff1a"/>
<rect x="677.40" y="517.88" width="35.25" height="23.18" fill="#edff12"/>
<rect x="712.05" y="517.88" width="35.25" height="23.18" fill="#ffde00"/>
<rect x="746.70" y="517.88" width="35.25" height="23.18" fill="#ffc100"/>
<rect x="781.35" y="517.88" width="35.25" height="23.18" fill="#ffb200"/>
<rect x="816.00" y="517.88" width="35.25" height="23.18" fill="#ff9500"/>
<rect x="850.65" y="517.88" width="35.25" height="23.18" fill="#ff6a00"/>
<rect x="885.30" y="517.88" width="35.25" height="23.18" fill="#ff6a00"/>
<rect x="919.95" y="517.88" width="35.25" height="23.18" fill="#ff3e00"/>
<rect x="123.00" y="540.46" width="35.25" height="23.18" fill="#000080"/>
<rect x="157.65" y="540.46" width="35.25" height="23.18" fill="#000080"/>
<rect x="192.30" y="540.46" width="35.25" height="23.18" fill="#000080"/>
<rect x="226.95" y="540.46" width="35.25" height="23.18" fill="#000080"/>
<rect x="261.60" y="540.46" width="35.25" height="23.18" fill="#000080"/>
<rect x="296.25" y="540.46" width="35.25" height="23.18" fill="#000080"/>
<rect x="330.90" y="540.46" width="35.25" height="23.18" fill="#000080"/>
<rect x="365.55" y="540.46" width="35.25" height="23.18" fill="#0000ba"/>
<rect x="400.20" y="540.46" width="35.25" height="23.18" fill="#0000de"/>
<rect x="434.85" y="540.46" width="35.25" height="23.18" fill="#0000fb"/>
<rect x="469.50" y="540.46" width="35.25" height="23.18" fill="#0021ff"/>
<rect x="504.15" y="540.46" width="35.25" height="23.18" fill="#002fff"/>
<rect x="538.80" y="540.46" width="35.25" height="23.18" fill="#005bff"/>
<rect x="573.45" y="540.46" width="35.25" height="23.18" fill="#0087ff"/>
<rect x="608.10" y="540.46" width="35.25" height="23.18" fill="#0095ff"/>
<rect x="642.75" y="540.46" width="35.25" height="23.18" fill="#00b2ff"/>
<rect x="677.40" y="540.46" width="35.25" height="23.18" fill="#00d7ff"/>
<rect x="712.05" y="540.46" width="35.25" height="23.18" fill="#00fbff"/>
<rect x="746.70" y="540.46" width="35.25" height="23.18" fill="#2fffd0"/>
<rect x="781.35" y="540.46" width="35.25" height="23.18" fill="#62ff9d"/>
<rect x="816.00" y="540.46" width="35.25" height="23.18" fill="#a4ff5b"/>
<rect x="850.65" y="540.46" width="35.25" height="23.18" fill="#c1ff3e"/>
<rect x="885.30" y="540.46" width="35.25" height="23.18" fill="#fbff04"/>
<rect x="919.95" y="540.46" width="35.25" height="23.18" fill="#ffe500"/>
<rect x="123.00" y="563.04" width="35.25" height="23.18" fill="#000080"/>
<rect x="157.65" y="563.04" width="35.25" height="23.18" fill="#000080"/>
<rect x="192.30" y="563.04" width="35.25" height="23.18" fill="#000080"/>
<rect x="226.95" y="563.04" width="35.25" height="23.18" fill="#000080"/>
<rect x="261.60" y="563.04" width="35.25" height="23.18" fill="#0000c8"/>
<rect x="296.25" y="563.04" width="35.25" height="23.18" fill="#0000f4"/>
<rect x="330.90" y="563.04" width="35.25" height="23.18" fill="#0028ff"/>
<rect x="365.55" y="563.04" width="35.25" height="23.18" fill="#0045ff"/>
<rect x="400.20" y="563.04" width="35.25" height="23.18" fill="#0054ff"/>
<rect x="434.85" y="563.04" width="35.25" height="23.18" fill="#0062ff"/>
<rect x="469.50" y="563.04" width="35.25" height="23.18" fill="#008eff"/>
<rect x="504.15" y="563.04" width="35.25" height="23.18" fill="#00a4ff"/>
<rect x="538.80" y="563.04" width="35.25" height="23.18" fill="#00c8ff"/>
<rect x="573.45" y="563.04" width="35.25" height="23.18" fill="#00fbff"/>
<rect x="608.10" y="563.04" width="35.25" height="23.18" fill="#0bfff4"/>
<rect x="642.75" y="563.04" width="35.25" height="23.18" fill="#5bffa4"/>
<rect x="677.40" y="563.04" width="35.25" height="23.18" fill="#80ff80"/>
<rect x="712.05" y="563.04" width="35.25" height="23.18" fill="#abff54"/>
<rect x="746.70" y="563.04" width="35.25" height="23.18" fill="#d7ff28"/>
<rect x="781.35" y="563.04" width="35.25" height="23.18" fill="#edff12"/>
<rect x="816.00" y="563.04" width="35.25" height="23.18" fill="#ffed00"/>
<rect x="850.65" y="563.04" width="35.25" height="23.18" fill="#ffde00"/>
<rect x="885.30" y="563.04" width="35.25" height="23.18" fill="#ffde00"/>
<rect x="919.95" y="563.04" width="35.25" height="23.18" fill="#ffd000"/>
<rect x="123.00" y="585.62" width="35.25" height="23.18" fill="#0045ff"/>
<rect x="157.65" y="585.62" width="35.25" height="23.18" fill="#0028ff"/>
<rect x="192.30" y="585.62" width="35.25" height="23.18" fill="#002fff"/>
<rect x="226.95" y="585.62" width="35.25" height="23.18" fill="#0078ff"/>
<rect x="261.60" y="585.62" width="35.25" height="23.18" fill="#009dff"/>
<rect x="296.25" y="585.62" width="35.25" height="23.18" fill="#00baff"/>
<rect x="330.90" y="585.62" width="35.25" height="23.18" fill="#00deff"/>
<rect x="365.55" y="585.62" width="35.25" height="23.18" fill="#00f4ff"/>
<rect x="400.20" y="585.62" width="35.25" height="23.18" fill="#0bfff4"/>
<rect x="434.85" y="585.62" width="35.25" height="23.18" fill="#19ffe6"/>
<rect x="469.50" y="585.62" width="35.25" height="23.18" fill="#19ffe6"/>
<rect x="504.15" y="585.62" width="35.25" height="23.18" fill="#21ffde"/>
<rect x="538.80" y="585.62" width="35.25" height="23.18" fill="#2fffd0"/>
<rect x="573.45" y="585.62" width="35.25" height="23.18" fill="#62ff9d"/>
<rect x="608.10" y="585.62" width="35.25" height="23.18" fill="#80ff80"/>
<rect x="642.75" y="585.62" width="35.25" height="23.18" fill="#abff54"/>
<rect x="677.40" y="585.62" width="35.25" height="23.18" fill="#e5ff1a"/>
<rect x="712.05" y="585.62" width="35.25" height="23.18" fill="#ffde00"/>
<rect x="746.70" y="585.62" width="35.25" height="23.18" fill="#ffc100"/>
<rect x="781.35" y="585.62" width="35.25" height="23.18" fill="#ffa400"/>
<rect x="816.00" y="585.62" width="35.25" height="23.18" fill="#ff8e00"/>
<rect x="850.65" y="585.62" width="35.25" height="23.18" fill="#ff7800"/>
<rect x="885.30" y="585.62" width="35.25" height="23.18" fill="#ff6a00"/>
<rect x="919.95" y="585.62" width="35.25" height="23.18" fill="#ff3e00"/>
<rect x="123.00" y="608.20" width="35.25" height="23.18" fill="#0095ff"/>
<rect x="157.65" y="608.20" width="35.25" height="23.18" fill="#00a4ff"/>
<rect x="192.30" y="608.20" width="35.25" height="23.18" fill="#00deff"/>
<rect x="226.95" y="608.20" width="35.25" height="23.18" fill="#00f4ff"/>
<rect x="261.60" y="608.20" width="35.25" height="23.18" fill="#19ffe6"/>
<rect x="296.25" y="608.20" width="35.25" height="23.18" fill="#62ff9d"/>
<rect x="330.90" y="608.20" width="35.25" height="23.18" fill="#80ff80"/>
<rect x="365.55" y="608.20" width="35.25" height="23.18" fill="#87ff78"/>
<rect x="400.20" y="608.20" width="35.25" height="23.18" fill="#a4ff5b"/>
<rect x="434.85" y="608.20" width="35.25" height="23.18" fill="#c8ff37"/>
<rect x="469.50" y="608.20" width="35.25" height="23.18" fill="#deff21"/>
<rect x="504.15" y="608.20" width="35.25" height="23.18" fill="#edff12"/>
<rect x="538.80" y="608.20" width="35.25" height="23.18" fill="#fff400"/>
<rect x="573.45" y="608.20" width="35.25" height="23.18" fill="#ffde00"/>
<rect x="608.10" y="608.20" width="35.25" height="23.18" fill="#ffd700"/>
<rect x="642.75" y="608.20" width="35.25" height="23.18" fill="#ffc100"/>
<rect x="677.40" y="608.20" width="35.25" height="23.18" fill="#ff8e00"/>
<rect x="712.05" y="608.20" width="35.25" height="23.18" fill="#ff6200"/>
<rect x="746.70" y="608.20" width="35.25" height="23.18" fill="#ff3e00"/>
<rect x="781.35" y="608.20" width="35.25" height="23.18" fill="#ff2100"/>
<rect x="816.00" y="608.20" width="35.25" height="23.18" fill="#ff0400"/>
<rect x="850.65" y="608.20" width="35.25" height="23.18" fill="#e50000"/>
<rect x="885.30" y="608.20" width="35.25" height="23.18" fill="#e50000"/>
<rect x="919.95" y="608.20" width="35.25" height="23.18" fill="#d70000"/>
<rect x="123.00" y="630.78" width="35.25" height="23.18" fill="#0000de"/>
<rect x="157.65" y="630.78" width="35.25" height="23.18" fill="#0000d7"/>
<rect x="192.30" y="630.78" width="35.25" height="23.18" fill="#0000e6"/>
<rect x="226.95" y="630.78" width="35.25" height="23.18" fill="#0000ed"/>
<rect x="261.60" y="630.78" width="35.25" height="23.18" fill="#0000fb"/>
<rect x="296.25" y="630.78" width="35.25" height="23.18" fill="#003eff"/>
<rect x="330.90" y="630.78" width="35.25" height="23.18" fill="#0054ff"/>
<rect x="365.55" y="630.78" width="35.25" height="23.18" fill="#0087ff"/>
<rect x="400.20" y="630.78" width="35.25" height="23.18" fill="#00baff"/>
<rect x="434.85" y="630.78" width="35.25" height="23.18" fill="#00deff"/>
<rect x="469.50" y="630.78" width="35.25" height="23.18" fill="#00edff"/>
<rect x="504.15" y="630.78" width="35.25" height="23.18" fill="#0bfff4"/>
<rect x="538.80" y="630.78" width="35.25" height="23.18" fill="#3effc1"/>
<rect x="573.45" y="630.78" width="35.25" height="23.18" fill="#80ff80"/>
<rect x="608.10" y="630.78" width="35.25" height="23.18" fill="#c1ff3e"/>
<rect x="642.75" y="630.78" width="35.25" height="23.18" fill="#fbff04"/>
<rect x="677.40" y="630.78" width="35.25" height="23.18" fill="#ffd700"/>
<rect x="712.05" y="630.78" width="35.25" height="23.18" fill="#ffab00"/>
<rect x="746.70" y="630.78" width="35.25" height="23.18" fill="#ff8000"/>
<rect x="781.35" y="630.78" width="35.25" height="23.18" fill="#ff6a00"/>
<rect x="816.00" y="630.78" width="35.25" height="23.18" fill="#ff6a00"/>
<rect x="850.65" y="630.78" width="35.25" height="23.18" fill="#ff6a00"/>
<rect x="885.30" y="630.78" width="35.25" height="23.18" fill="#ff4d00"/>
<rect x="919.95" y="630.78" width="35.25" height="23.18" fill="#ff4500"/>
<rect x="123.00" y="653.36" width="35.25" height="23.18" fill="#0000c8"/>
<rect x="157.65" y="653.36" width="35.25" height="23.18" fill="#0000d7"/>
<rect x="192.30" y="653.36" width="35.25" height="23.18" fill="#0012ff"/>
<rect x="226.95" y="653.36" width="35.25" height="23.18" fill="#005bff"/>
<rect x="261.60" y="653.36" width="35.25" height="23.18" fill="#0095ff"/>
<rect x="296.25" y="653.36" width="35.25" height="23.18" fill="#00baff"/>
<rect x="330.90" y="653.36" width="35.25" height="23.18" fill="#00d7ff"/>
<rect x="365.55" y="653.36" width="35.25" height="23.18" fill="#00f4ff"/>
<rect x="400.20" y="653.36" width="35.25" height="23.18" fill="#04fffb"/>
<rect x="434.85" y="653.36" width="35.25" height="23.18" fill="#2fffd0"/>
<rect x="469.50" y="653.36" width="35.25" height="23.18" fill="#3effc1"/>
<rect x="504.15" y="653.36" width="35.25" height="23.18" fill="#5bffa4"/>
<rect x="538.80" y="653.36" width="35.25" height="23.18" fill="#71ff8e"/>
<rect x="573.45" y="653.36" width="35.25" height="23.18" fill="#b2ff4d"/>
<rect x="608.10" y="653.36" width="35.25" height="23.18" fill="#c8ff37"/>
<rect x="642.75" y="653.36" width="35.25" height="23.18" fill="#edff12"/>
<rect x="677.40" y="653.36" width="35.25" height="23.18" fill="#fffb00"/>
<rect x="712.05" y="653.36" width="35.25" height="23.18" fill="#ffed00"/>
<rect x="746.70" y="653.36" width="35.25" height="23.18" fill="#ffc800"/>
<rect x="781.35" y="653.36" width="35.25" height="23.18" fill="#ffba00"/>
<rect x="816.00" y="653.36" width="35.25" height="23.18" fill="#ffab00"/>
<rect x="850.65" y="653.36" width="35.25" height="23.18" fill="#ff9500"/>
<rect x="885.30" y="653.36" width="35.25" height="23.18" fill="#ff8e00"/>
<rect x="919.95" y="653.36" width="35.25" height="23.18" fill="#ff4500"/>
<rect x="123.00" y="675.94" width="35.25" height="23.18" fill="#0071ff"/>
<rect x="157.65" y="675.94" width="35.25" height="23.18" fill="#0087ff"/>
<rect x="192.30" y="675.94" width="35.25" height="23.18" fill="#0087ff"/>
<rect x="226.95" y="675.94" width="35.25" height="23.18" fill="#009dff"/>
<rect x="261.60" y="675.94" width="35.25" height="23.18" fill="#00deff"/>
<rect x="296.25" y="675.94" width="35.25" height="23.18" fill="#21ffde"/>
<rect x="330.90" y="675.94" width="35.25" height="23.18" fill="#5bffa4"/>
<rect x="365.55" y="675.94" width="35.25" height="23.18" fill="#9dff62"/>
<rect x="400.20" y="675.94" width="35.25" height="23.18" fill="#c1ff3e"/>
<rect x="434.85" y="675.94" width="35.25" height="23.18" fill="#fbff04"/>
<rect x="469.50" y="675.94" width="35.25" height="23.18" fill="#fffb00"/>
<rect x="504.15" y="675.94" width="35.25" height="23.18" fill="#fffb00"/>
<rect x="538.80" y="675.94" width="35.25" height="23.18" fill="#ffde00"/>
<rect x="573.45" y="675.94" width="35.25" height="23.18" fill="#ffc800"/>
<rect x="608.10" y="675.94" width="35.25" height="23.18" fill="#ff9500"/>
<rect x="642.75" y="675.94" width="35.25" height="23.18" fill="#ff6a00"/>
<rect x="677.40" y="675.94" width="35.25" height="23.18" fill="#ff4d00"/>
<rect x="712.05" y="675.94" width="35.25" height="23.18" fill="#ff2800"/>
<rect x="746.70" y="675.94" width="35.25" height="23.18" fill="#ff2800"/>
<rect x="781.35" y="675.94" width="35.25" height="23.18" fill="#ff1200"/>
<rect x="816.00" y="675.94" width="35.25" height="23.18" fill="#f40000"/>
<rect x="850.65" y="675.94" width="35.25" height="23.18" fill="#d70000"/>
<rect x="885.30" y="675.94" width="35.25" height="23.18" fill="#d70000"/>
<rect x="919.95" y="675.94" width="35.25" height="23.18" fill="#d70000"/>
<rect x="123.00" y="698.52" width="35.25" height="23.18" fill="#00baff"/>
<rect x="157.65" y="698.52" width="35.25" height="23.18" fill="#00c8ff"/>
<rect x="192.30" y="698.52" width="35.25" height="23.18" fill="#04fffb"/>
<rect x="226.95" y="698.52" width="35.25" height="23.18" fill="#21ffde"/>
<rect x="261.60" y="698.52" width="35.25" height="23.18" fill="#4dffb2"/>
<rect x="296.25" y="698.52" width="35.25" height="23.18" fill="#8eff71"/>
<rect x="330.90" y="698.52" width="35.25" height="23.18" fill="#9dff62"/>
<rect x="365.55" y="698.52" width="35.25" height="23.18" fill="#abff54"/>
<rect x="400.20" y="698.52" width="35.25" height="23.18" fill="#b2ff4d"/>
<rect x="434.85" y="698.52" width="35.25" height="23.18" fill="#d0ff2f"/>
<rect x="469.50" y="698.52" width="35.25" height="23.18" fill="#fffb00"/>
<rect x="504.15" y="698.52" width="35.25" height="23.18" fill="#ffc800"/>
<rect x="538.80" y="698.52" width="35.25" height="23.18" fill="#ffab00"/>
<rect x="573.45" y="698.52" width="35.25" height="23.18" fill="#ffa400"/>
<rect x="608.10" y="698.52" width="35.25" height="23.18" fill="#ff9500"/>
<rect x="642.75" y="698.52" width="35.25" height="23.18" fill="#ff9500"/>
<rect x="677.40" y="698.52" width="35.25" height="23.18" fill="#ff8e00"/>
<rect x="712.05" y="698.52" width="35.25" height="23.18" fill="#ff5b00"/>
<rect x="746.70" y="698.52" width="35.25" height="23.18" fill="#ff4500"/>
<rect x="781.35" y="698.52" width="35.25" height="23.18" fill="#ff4500"/>
<rect x="816.00" y="698.52" width="35.25" height="23.18" fill="#ff3700"/>
<rect x="850.65" y="698.52" width="35.25" height="23.18" fill="#ff2100"/>
<rect x="885.30" y="698.52" width="35.25" height="23.18" fill="#ff1200"/>
<rect x="919.95" y="698.52" width="35.25" height="23.18" fill="#ff1200"/>
<rect x="123.00" y="721.10" width="35.25" height="23.18" fill="#00c8ff"/>
<rect x="157.65" y="721.10" width="35.25" height="23.18" fill="#00e6ff"/>
<rect x="192.30" y="721.10" width="35.25" height="23.18" fill="#04fffb"/>
<rect x="226.95" y="721.10" width="35.25" height="23.18" fill="#3effc1"/>
<rect x="261.60" y="721.10" width="35.25" height="23.18" fill="#71ff8e"/>
<rect x="296.25" y="721.10" width="35.25" height="23.18" fill="#9dff62"/>
<rect x="330.90" y="721.10" width="35.25" height="23.18" fill="#a4ff5b"/>
<rect x="365.55" y="721.10" width="35.25" height="23.18" fill="#c8ff37"/>
<rect x="400.20" y="721.10" width="35.25" height="23.18" fill="#e5ff1a"/>
<rect x="434.85" y="721.10" width="35.25" height="23.18" fill="#ffde00"/>
<rect x="469.50" y="721.10" width="35.25" height="23.18" fill="#ffc800"/>
<rect x="504.15" y="721.10" width="35.25" height="23.18" fill="#ffa400"/>
<rect x="538.80" y="721.10" width="35.25" height="23.18" fill="#ff8000"/>
<rect x="573.45" y="721.10" width="35.25" height="23.18" fill="#ff7800"/>
<rect x="608.10" y="721.10" width="35.25" height="23.18" fill="#ff6a00"/>
<rect x="642.75" y="721.10" width="35.25" height="23.18" fill="#ff4d00"/>
<rect x="677.40" y="721.10" width="35.25" height="23.18" fill="#ff4d00"/>
<rect x="712.05" y="721.10" width="35.25" height="23.18" fill="#ff4500"/>
<rect x="746.70" y="721.10" width="35.25" height="23.18" fill="#ff3e00"/>
<rect x="781.35" y="721.10" width="35.25" height="23.18" fill="#ff2800"/>
<rect x="816.00" y="721.10" width="35.25" height="23.18" fill="#ff1200"/>
<rect x="850.65" y="721.10" width="35.25" height="23.18" fill="#ff1200"/>
<rect x="885.30" y="721.10" width="35.25" height="23.18" fill="#ff0b00"/>
<rect x="919.95" y="721.10" width="35.25" height="23.18" fill="#ff0b00"/>
<rect x="123.00" y="743.68" width="35.25" height="23.18" fill="#0000e6"/>
<rect x="157.65" y="743.68" width="35.25" height="23.18" fill="#0000fb"/>
<rect x="192.30" y="743.68" width="35.25" height="23.18" fill="#002fff"/>
<rect x="226.95" y="743.68" width="35.25" height="23.18" fill="#005bff"/>
<rect x="261.60" y="743.68" width="35.25" height="23.18" fill="#008eff"/>
<rect x="296.25" y="743.68" width="35.25" height="23.18" fill="#00c8ff"/>
<rect x="330.90" y="743.68" width="35.25" height="23.18" fill="#00e6ff"/>
<rect x="365.55" y="743.68" width="35.25" height="23.18" fill="#00f4ff"/>
<rect x="400.20" y="743.68" width="35.25" height="23.18" fill="#0bfff4"/>
<rect x="434.85" y="743.68" width="35.25" height="23.18" fill="#2fffd0"/>
<rect x="469.50" y="743.68" width="35.25" height="23.18" fill="#4dffb2"/>
<rect x="504.15" y="743.68" width="35.25" height="23.18" fill="#78ff87"/>
<rect x="538.80" y="743.68" width="35.25" height="23.18" fill="#71ff8e"/>
<rect x="573.45" y="743.68" width="35.25" height="23.18" fill="#80ff80"/>
<rect x="608.10" y="743.68" width="35.25" height="23.18" fill="#9dff62"/>
<rect x="642.75" y="743.68" width="35.25" height="23.18" fill="#abff54"/>
<rect x="677.40" y="743.68" width="35.25" height="23.18" fill="#d7ff28"/>
<rect x="712.05" y="743.68" width="35.25" height="23.18" fill="#e5ff1a"/>
<rect x="746.70" y="743.68" width="35.25" height="23.18" fill="#fffb00"/>
<rect x="781.35" y="743.68" width="35.25" height="23.18" fill="#ffde00"/>
<rect x="816.00" y="743.68" width="35.25" height="23.18" fill="#ffd000"/>
<rect x="850.65" y="743.68" width="35.25" height="23.18" fill="#ffab00"/>
<rect x="885.30" y="743.68" width="35.25" height="23.18" fill="#ff8000"/>
<rect x="919.95" y="743.68" width="35.25" height="23.18" fill="#ff6200"/>
<rect x="123.00" y="766.26" width="35.25" height="23.18" fill="#0054ff"/>
<rect x="157.65" y="766.26" width="35.25" height="23.18" fill="#005bff"/>
<rect x="192.30" y="766.26" width="35.25" height="23.18" fill="#0087ff"/>
<rect x="226.95" y="766.26" width="35.25" height="23.18" fill="#009dff"/>
<rect x="261.60" y="766.26" width="35.25" height="23.18" fill="#00d0ff"/>
<rect x="296.25" y="766.26" width="35.25" height="23.18" fill="#00f4ff"/>
<rect x="330.90" y="766.26" width="35.25" height="23.18" fill="#2fffd0"/>
<rect x="365.55" y="766.26" width="35.25" height="23.18" fill="#62ff9d"/>
<rect x="400.20" y="766.26" width="35.25" height="23.18" fill="#9dff62"/>
<rect x="434.85" y="766.26" width="35.25" height="23.18" fill="#b2ff4d"/>
<rect x="469.50" y="766.26" width="35.25" height="23.18" fill="#c8ff37"/>
<rect x="504.15" y="766.26" width="35.25" height="23.18" fill="#edff12"/>
<rect x="538.80" y="766.26" width="35.25" height="23.18" fill="#fffb00"/>
<rect x="573.45" y="766.26" width="35.25" height="23.18" fill="#ffc800"/>
<rect x="608.10" y="766.26" width="35.25" height="23.18" fill="#ff8000"/>
<rect x="642.75" y="766.26" width="35.25" height="23.18" fill="#ff7800"/>
<rect x="677.40" y="766.26" width="35.25" height="23.18" fill="#ff5b00"/>
<rect x="712.05" y="766.26" width="35.25" height="23.18" fill="#ff3700"/>
<rect x="746.70" y="766.26" width="35.25" height="23.18" fill="#ff0b00"/>
<rect x="781.35" y="766.26" width="35.25" height="23.18" fill="#f40000"/>
<rect x="816.00" y="766.26" width="35.25" height="23.18" fill="#d70000"/>
<rect x="850.65" y="766.26" width="35.25" height="23.18" fill="#ba0000"/>
<rect x="885.30" y="766.26" width="35.25" height="23.18" fill="#ab0000"/>
<rect x="919.95" y="766.26" width="35.25" height="23.18" fill="#ba0000"/>
<rect x="123.00" y="788.84" width="35.25" height="23.18" fill="#000080"/>
<rect x="157.65" y="788.84" width="35.25" height="23.18" fill="#000080"/>
<rect x="192.30" y="788.84" width="35.25" height="23.18" fill="#000080"/>
<rect x="226.95" y="788.84" width="35.25" height="23.18" fill="#000095"/>
<rect x="261.60" y="788.84" width="35.25" height="23.18" fill="#0000ed"/>
<rect x="296.25" y="788.84" width="35.25" height="23.18" fill="#0000fb"/>
<rect x="330.90" y="788.84" width="35.25" height="23.18" fill="#002fff"/>
<rect x="365.55" y="788.84" width="35.25" height="23.18" fill="#0045ff"/>
<rect x="400.20" y="788.84" width="35.25" height="23.18" fill="#0071ff"/>
<rect x="434.85" y="788.84" width="35.25" height="23.18" fill="#0095ff"/>
<rect x="469.50" y="788.84" width="35.25" height="23.18" fill="#00a4ff"/>
<rect x="504.15" y="788.84" width="35.25" height="23.18" fill="#00d0ff"/>
<rect x="538.80" y="788.84" width="35.25" height="23.18" fill="#00f4ff"/>
<rect x="573.45" y="788.84" width="35.25" height="23.18" fill="#37ffc8"/>
<rect x="608.10" y="788.84" width="35.25" height="23.18" fill="#4dffb2"/>
<rect x="642.75" y="788.84" width="35.25" height="23.18" fill="#78ff87"/>
<rect x="677.40" y="788.84" width="35.25" height="23.18" fill="#9dff62"/>
<rect x="712.05" y="788.84" width="35.25" height="23.18" fill="#c8ff37"/>
<rect x="746.70" y="788.84" width="35.25" height="23.18" fill="#edff12"/>
<rect x="781.35" y="788.84" width="35.25" height="23.18" fill="#fff400"/>
<rect x="816.00" y="788.84" width="35.25" height="23.18" fill="#ffde00"/>
<rect x="850.65" y="788.84" width="35.25" height="23.18" fill="#ffd000"/>
<rect x="885.30" y="788.84" width="35.25" height="23.18" fill="#ffc100"/>
<rect x="919.95" y="788.84" width="35.25" height="23.18" fill="#ffab00"/>
<rect x="123.00" y="811.42" width="35.25" height="23.18" fill="#000080"/>
<rect x="157.65" y="811.42" width="35.25" height="23.18" fill="#000080"/>
<rect x="192.30" y="811.42" width="35.25" height="23.18" fill="#00009d"/>
<rect x="226.95" y="811.42" width="35.25" height="23.18" fill="#0000ba"/>
<rect x="261.60" y="811.42" width="35.25" height="23.18" fill="#0000fb"/>
<rect x="296.25" y="811.42" width="35.25" height="23.18" fill="#003eff"/>
<rect x="330.90" y="811.42" width="35.25" height="23.18" fill="#0062ff"/>
<rect x="365.55" y="811.42" width="35.25" height="23.18" fill="#009dff"/>
<rect x="400.20" y="811.42" width="35.25" height="23.18" fill="#00baff"/>
<rect x="434.85" y="811.42" width="35.25" height="23.18" fill="#00deff"/>
<rect x="469.50" y="811.42" width="35.25" height="23.18" fill="#04fffb"/>
<rect x="504.15" y="811.42" width="35.25" height="23.18" fill="#4dffb2"/>
<rect x="538.80" y="811.42" width="35.25" height="23.18" fill="#80ff80"/>
<rect x="573.45" y="811.42" width="35.25" height="23.18" fill="#abff54"/>
<rect x="608.10" y="811.42" width="35.25" height="23.18" fill="#b2ff4d"/>
<rect x="642.75" y="811.42" width="35.25" height="23.18" fill="#c8ff37"/>
<rect x="677.40" y="811.42" width="35.25" height="23.18" fill="#edff12"/>
<rect x="712.05" y="811.42" width="35.25" height="23.18" fill="#fffb00"/>
<rect x="746.70" y="811.42" width="35.25" height="23.18" fill="#ffd000"/>
<rect x="781.35" y="811.42" width="35.25" height="23.18" fill="#ffab00"/>
<rect x="816.00" y="811.42" width="35.25" height="23.18" fill="#ff7800"/>
<rect x="850.65" y="811.42" width="35.25" height="23.18" fill="#ff5b00"/>
<rect x="885.30" y="811.42" width="35.25" height="23.18" fill="#ff4500"/>
<rect x="919.95" y="811.42" width="35.25" height="23.18" fill="#ff1200"/>
<rect x="123.00" y="834.00" width="35.25" height="23.18" fill="#0045ff"/>
<rect x="157.65" y="834.00" width="35.25" height="23.18" fill="#005bff"/>
<rect x="192.30" y="834.00" width="35.25" height="23.18" fill="#0087ff"/>
<rect x="226.95" y="834.00" width="35.25" height="23.18" fill="#00a4ff"/>
<rect x="261.60" y="834.00" width="35.25" height="23.18" fill="#00e6ff"/>
<rect x="296.25" y="834.00" width="35.25" height="23.18" fill="#0bfff4"/>
<rect x="330.90" y="834.00" width="35.25" height="23.18" fill="#3effc1"/>
<rect x="365.55" y="834.00" width="35.25" height="23.18" fill="#78ff87"/>
<rect x="400.20" y="834.00" width="35.25" height="23.18" fill="#abff54"/>
<rect x="434.85" y="834.00" width="35.25" height="23.18" fill="#c1ff3e"/>
<rect x="469.50" y="834.00" width="35.25" height="23.18" fill="#d7ff28"/>
<rect x="504.15" y="834.00" width="35.25" height="23.18" fill="#fbff04"/>
<rect x="538.80" y="834.00" width="35.25" height="23.18" fill="#f4ff0b"/>
<rect x="573.45" y="834.00" width="35.25" height="23.18" fill="#fffb00"/>
<rect x="608.10" y="834.00" width="35.25" height="23.18" fill="#ffde00"/>
<rect x="642.75" y="834.00" width="35.25" height="23.18" fill="#ffd000"/>
<rect x="677.40" y="834.00" width="35.25" height="23.18" fill="#ffb200"/>
<rect x="712.05" y="834.00" width="35.25" height="23.18" fill="#ffab00"/>
<rect x="746.70" y="834.00" width="35.25" height="23.18" fill="#ff9500"/>
<rect x="781.35" y="834.00" width="35.25" height="23.18" fill="#ff7800"/>
<rect x="816.00" y="834.00" width="35.25" height="23.18" fill="#ff5b00"/>
<rect x="850.65" y="834.00" width="35.25" height="23.18" fill="#ff3700"/>
<rect x="885.30" y="834.00" width="35.25" height="23.18" fill="#ff2100"/>
<rect x="919.95" y="834.00" width="35.25" height="23.18" fill="#ff1200"/>
</g>
<rect x="955.2" y="0" width="16" height="440" fill="#fff"/>
<rect x="955.4" y="494" width="16" height="370" fill="#fff"/>
<rect x="110" y="403.1" width="861" height="12" fill="#fff"/>
<rect x="110" y="856.9" width="861" height="12" fill="#fff"/>
<rect x="123.4" y="1.6" width="831.4" height="401" fill="none" stroke="#222" stroke-opacity="0.4" stroke-width="1"/>
<path d="M123.5 495V856.4H954.8V495" fill="none" stroke="#111" stroke-opacity="0.45" stroke-width="1"/>
<path d="M279.4 450.5v8.5M452.4 450.5v8.5M625.5 450.5v8.5M798.5 450.5v8.5M123.5 461.8h8.5M954.8 461.8h-8.5" stroke="#222" stroke-width="1.2" fill="none"/>
<line x1="904.1" y1="27.2" x2="302.1" y2="338.5" stroke="#000" stroke-width="3.4"/>
<polygon points="291.4,344.0 310.4,341.6 302.1,338.5 304.4,329.9" fill="#000"/>
<line x1="887.0" y1="528.5" x2="358.5" y2="798.1" stroke="#000" stroke-width="3.4"/>
<polygon points="347.8,803.6 366.8,801.3 358.5,798.1 360.8,789.5" fill="#000"/>
<text x="113.5" y="25.4" style="font-size:34.6px" text-anchor="end">2000</text>
<text x="113.5" y="136.9" style="font-size:34.6px" text-anchor="end">2005</text>
<text x="113.5" y="248.4" style="font-size:34.6px" text-anchor="end">2010</text>
<text x="113.5" y="359.5" style="font-size:34.6px" text-anchor="end">2015</text>
<text x="113.5" y="473.6" style="font-size:34.6px" text-anchor="end">2000</text>
<text x="113.5" y="586.4" style="font-size:34.6px" text-anchor="end">2005</text>
<text x="113.5" y="699.2" style="font-size:34.6px" text-anchor="end">2010</text>
<text x="113.5" y="811.9" style="font-size:34.6px" text-anchor="end">2015</text>
<text x="279.4" y="443.9" style="font-size:34.6px" text-anchor="middle">55</text>
<text x="279.4" y="897.7" style="font-size:34.6px" text-anchor="middle">55</text>
<text x="452.4" y="443.9" style="font-size:34.6px" text-anchor="middle">60</text>
<text x="452.4" y="897.7" style="font-size:34.6px" text-anchor="middle">60</text>
<text x="625.5" y="443.9" style="font-size:34.6px" text-anchor="middle">65</text>
<text x="625.5" y="897.7" style="font-size:34.6px" text-anchor="middle">65</text>
<text x="798.5" y="443.9" style="font-size:34.6px" text-anchor="middle">70</text>
<text x="798.5" y="897.7" style="font-size:34.6px" text-anchor="middle">70</text>
<text x="0.0" y="72.8" style="font-size:32.5px" text-anchor="start">(a)</text>
<text x="0.0" y="525.5" style="font-size:32.5px" text-anchor="start">(b)</text>
<text transform="translate(35.8,202.2) rotate(-90)" style="font-size:32px" text-anchor="middle">Year</text>
<text transform="translate(35.8,653.5) rotate(-90)" style="font-size:32px" text-anchor="middle">Year</text>
<text x="539.0" y="924.4" style="font-size:30.3px" text-anchor="middle">Longitude (°E)</text>
<rect x="123.5" y="938.6" width="831.3" height="19.6" fill="url(#jet)" stroke="#222" stroke-width="1.1"/>
<path d="M242.5 958.2v-8M361.3 958.2v-8M480.1 958.2v-8M598.9 958.2v-8M717.7 958.2v-8M836.5 958.2v-8" stroke="#222" stroke-width="1.1" fill="none"/>
<text x="123.2" y="995.6" style="font-size:31.5px" text-anchor="middle">3</text>
<text x="242.0" y="995.6" style="font-size:31.5px" text-anchor="middle">4</text>
<text x="360.8" y="995.6" style="font-size:31.5px" text-anchor="middle">5</text>
<text x="479.6" y="995.6" style="font-size:31.5px" text-anchor="middle">6</text>
<text x="598.4" y="995.6" style="font-size:31.5px" text-anchor="middle">7</text>
<text x="717.2" y="995.6" style="font-size:31.5px" text-anchor="middle">8</text>
<text x="836.0" y="995.6" style="font-size:31.5px" text-anchor="middle">9</text>
<text x="954.8" y="995.6" style="font-size:31.5px" text-anchor="middle">10</text>
<text x="539.5" y="1019.5" style="font-size:30.6px" text-anchor="middle">CTH(km)</text>
</svg></body></html>
